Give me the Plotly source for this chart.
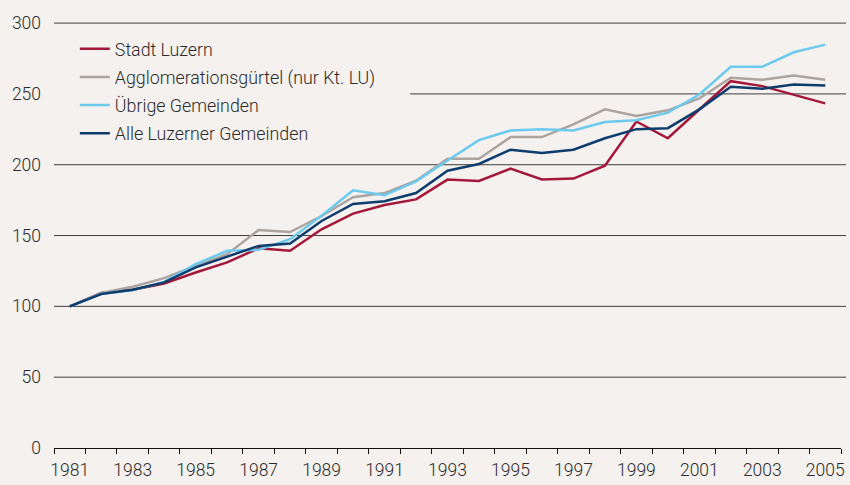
import plotly.graph_objects as go

years = list(range(1981, 2006))

stadt_luzern = [100, 109.4, 111.7, 116.2, 123.9, 131.0, 141.0, 139.2, 154.4, 165.5,
                171.5, 175.5, 189.5, 188.5, 197.2, 189.6, 190.2, 199.3, 230.5, 218.7,
                239.0, 259.0, 255.5, 249.6, 243.3]
agglomeration = [100, 109.4, 113.8, 119.9, 128.6, 136.8, 153.9, 152.5, 163.8, 177.0,
                 180.0, 188.7, 204.2, 204.2, 219.5, 219.5, 228.5, 239.1, 234.4, 238.4,
                 246.8, 261.4, 260.0, 263.0, 260.0]
uebrige = [100, 109.0, 111.4, 117.3, 129.8, 139.2, 139.9, 147.4, 164.0, 181.9,
           178.4, 188.3, 203.0, 217.4, 224.2, 225.1, 224.2, 230.2, 231.4, 236.8,
           249.6, 269.1, 269.1, 279.4, 284.8]
alle = [100, 108.7, 111.7, 116.9, 127.5, 135.2, 142.7, 144.4, 160.3, 172.3,
        174.2, 180.0, 195.8, 200.5, 210.6, 208.2, 210.6, 218.7, 225.1, 225.8,
        239.1, 255.0, 253.6, 256.7, 256.0]

series_names = ["Stadt Luzern", "Agglomerationsgürtel (nur Kt. LU)",
                "Übrige Gemeinden", "Alle Luzerner Gemeinden"]
series_values = [stadt_luzern, agglomeration, uebrige, alle]
series_colors = ["#a3173a", "#aba49f", "#6ccaee", "#0e3c6c"]

x_tick_years = list(range(1981, 2006, 2))
x_tick_labels = [str(y) for y in x_tick_years]
y_tick_values = [0, 50, 100, 150, 200, 250, 300]
grid_values = [50, 100, 150, 200, 250, 300]

BG = "#f4f1ee"
FONT = "Roboto, Liberation Sans, sans-serif"
TXT = "#2b2b2b"

fig = go.Figure()
for i, (name, vals, col) in enumerate(zip(series_names, series_values, series_colors)):
    fig.add_trace(go.Scatter(
        x=years, y=vals, name=name, mode="lines",
        line=dict(color=col, width=2.5),
        legendgroup=f"g{i}",
    ))

shapes = []
for v in grid_values:
    shapes.append(dict(
        type="line", xref="paper", yref="y",
        x0=0.4526 if v == 250 else 0.0, x1=1.0064, y0=v, y1=v,
        line=dict(color="#3e3e3e", width=1), layer="below",
    ))

fig.update_layout(
    width=850, height=485,
    margin=dict(l=54, r=5, t=16, b=36),
    paper_bgcolor=BG, plot_bgcolor=BG,
    font=dict(family=FONT, size=17.5, color=TXT, weight=300),
    showlegend=True,
    legend=dict(
        x=0.0265, y=0.966, xanchor="left", yanchor="top",
        bgcolor="rgba(0,0,0,0)", borderwidth=0,
        font=dict(family=FONT, size=17.8, color=TXT, weight=300),
        tracegroupgap=2, itemwidth=30,
    ),
    shapes=shapes,
    xaxis=dict(
        range=[1980.5, 2005.5],
        showgrid=False, zeroline=False,
        showline=True, linecolor="#111111", linewidth=1,
        tickmode="array", tickvals=x_tick_years, ticktext=x_tick_labels,
        ticks="", ticklabelstandoff=6,
        tickfont=dict(family=FONT, size=17.5, color=TXT, weight=300),
        minor=dict(
            tickmode="array",
            tickvals=[y - 0.5 for y in years] + [years[-1] + 0.5],
            ticks="outside", ticklen=5, tickcolor="#111111", tickwidth=1,
            showgrid=False,
        ),
    ),
    yaxis=dict(
        range=[0, 305],
        showgrid=False, zeroline=False, showline=False,
        tickmode="array", tickvals=y_tick_values,
        ticks="", ticklabelstandoff=12,
        tickfont=dict(family=FONT, size=17.5, color=TXT, weight=300),
    ),
)

fig.write_html("out.html", config={"displayModeBar": False},
               post_script="document.body.style.margin='0';")
